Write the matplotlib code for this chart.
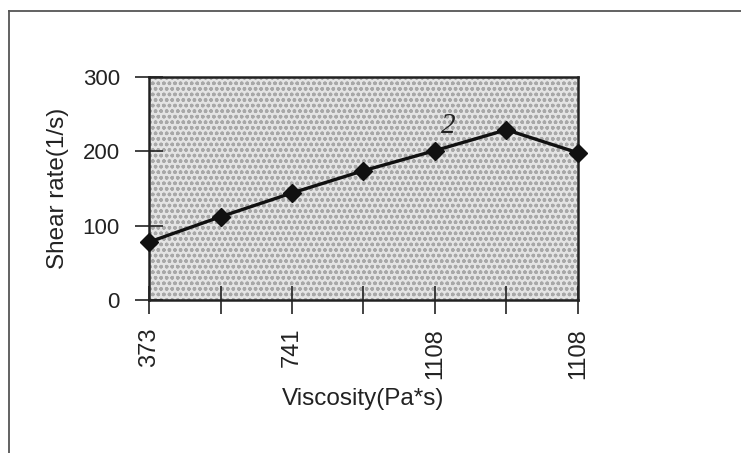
import matplotlib.pyplot as plt
from matplotlib.lines import Line2D
from matplotlib.patches import Rectangle

plt.rcParams['font.family'] = ['Liberation Sans', 'DejaVu Sans']
plt.rcParams['hatch.linewidth'] = 1.0

# datos
positions = [0, 1, 2, 3, 4, 5, 6]
tick_labels = ['373', '', '741', '', '1108', '', '1108']
shear_rate = [78, 112, 144, 174, 201, 229, 198]

fig = plt.figure(figsize=(7.41, 4.53), dpi=100)
ax = fig.add_axes([0.2011, 0.3377, 0.5789, 0.4923])

# fondo punteado como el original
ax.patch.set_facecolor('#e4e4e4')
ax.add_patch(Rectangle((0, 0), 1, 1, transform=ax.transAxes, facecolor='none',
                       edgecolor='#a8a8a8', hatch='ooo', lw=0, zorder=0))

ax.plot(positions, shear_rate, color='#111111', lw=2.4, marker='D',
        markersize=9, clip_on=False, zorder=5)

ax.set_xlim(0, 6)
ax.set_ylim(0, 300)
ax.set_xticks(positions)
ax.set_xticklabels(tick_labels, rotation=90, fontsize=17, color='#222222')
ax.set_yticks([0, 100, 200, 300])
ax.tick_params(axis='y', labelsize=16, labelcolor='#222222')
ax.tick_params(direction='inout', length=20, width=1.2, color='#222222')
ax.tick_params(axis='x', pad=10)
ax.tick_params(axis='y', pad=11)

for s in ax.spines.values():
    s.set_linewidth(1.8)
    s.set_color('#222222')

ax.set_xlabel('Viscosity(Pa*s)', fontsize=17.5, color='#222222', labelpad=7)
ax.set_ylabel('Shear rate(1/s)', fontsize=17.5, color='#222222', labelpad=10)

# numero de la curva
ax.text(4.18, 234, '2', fontsize=21, style='italic', family='Liberation Serif',
        color='#222222', ha='center', va='center')

# marco exterior (solo arriba e izquierda visibles)
fig.add_artist(Line2D([0.012, 1.0], [0.9757, 0.9757], transform=fig.transFigure,
                      color='#555555', lw=1.3))
fig.add_artist(Line2D([0.012, 0.012], [0.9757, 0.0], transform=fig.transFigure,
                      color='#555555', lw=1.3))

fig.savefig('out.png', dpi=100)
